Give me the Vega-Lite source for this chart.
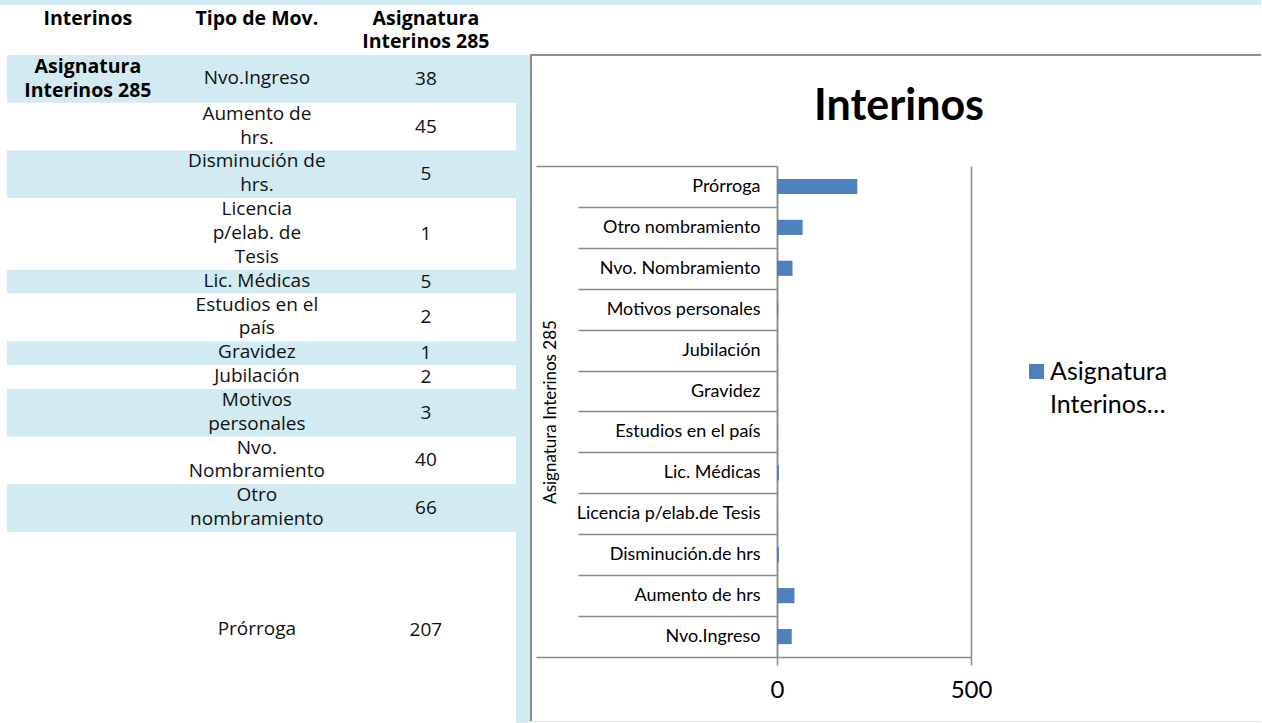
{
  "$schema": "https://vega.github.io/schema/vega-lite/v6.json",
  "background": "white",
  "padding": 0,
  "bounds": "flush",
  "spacing": 247,
  "config": {"view": {"stroke": null}, "style": {"guide-label": {"lineHeight": 33}}},
  "datasets": {
    "movimientos": [
      {"serie": "Asignatura Interinos 285", "tipo": ["Nvo.Ingreso"], "categoria": "Nvo.Ingreso", "valor": 38},
      {"serie": "Asignatura Interinos 285", "tipo": ["Aumento de", "hrs."], "categoria": "Aumento de hrs", "valor": 45},
      {"serie": "Asignatura Interinos 285", "tipo": ["Disminución de", "hrs."], "categoria": "Disminución.de hrs", "valor": 5},
      {"serie": "Asignatura Interinos 285", "tipo": ["Licencia", "p/elab. de", "Tesis"], "categoria": "Licencia p/elab.de Tesis", "valor": 1},
      {"serie": "Asignatura Interinos 285", "tipo": ["Lic. Médicas"], "categoria": "Lic. Médicas", "valor": 5},
      {"serie": "Asignatura Interinos 285", "tipo": ["Estudios en el", "país"], "categoria": "Estudios en el país", "valor": 2},
      {"serie": "Asignatura Interinos 285", "tipo": ["Gravidez"], "categoria": "Gravidez", "valor": 1},
      {"serie": "Asignatura Interinos 285", "tipo": ["Jubilación"], "categoria": "Jubilación", "valor": 2},
      {"serie": "Asignatura Interinos 285", "tipo": ["Motivos", "personales"], "categoria": "Motivos personales", "valor": 3},
      {"serie": "Asignatura Interinos 285", "tipo": ["Nvo.", "Nombramiento"], "categoria": "Nvo. Nombramiento", "valor": 40},
      {"serie": "Asignatura Interinos 285", "tipo": ["Otro", "nombramiento"], "categoria": "Otro nombramiento", "valor": 66},
      {"serie": "Asignatura Interinos 285", "tipo": ["Prórroga"], "categoria": "Prórroga", "valor": 207}
    ],
    "encabezados": [
      {"columna": 1, "titulo": ["Interinos"]},
      {"columna": 2, "titulo": ["Tipo de Mov."]},
      {"columna": 3, "titulo": ["Asignatura", "Interinos 285"]}
    ]
  },
  "hconcat": [
    {
      "width": 530,
      "height": 491,
      "layer": [
        {
          "data": {"values": [{}]},
          "layer": [
            {"mark": {"type": "rect", "color": "#D2EAF1"},
             "encoding": {
               "x": {"datum": 0.48, "type": "quantitative", "scale": {"domain": [0.48, 3.616], "nice": false, "zero": false}, "axis": null},
               "x2": {"datum": 7.9413},
               "y": {"datum": -2.3062, "type": "quantitative", "scale": {"domain": [4.654, 25.2411], "nice": false, "zero": false, "reverse": true}, "axis": null},
               "y2": {"datum": -2.0966}}},
            {"mark": {"type": "rect", "color": "#D2EAF1"},
             "encoding": {
               "x": {"datum": 3.5332, "type": "quantitative", "scale": {"domain": [0.48, 3.616], "nice": false, "zero": false}, "axis": null},
               "x2": {"datum": 3.616},
               "y": {"datum": 0, "type": "quantitative", "scale": {"domain": [4.654, 25.2411], "nice": false, "zero": false, "reverse": true}, "axis": null},
               "y2": {"datum": 28.0}}},
            {"mark": {"type": "rect", "color": "#8F8F8F"},
             "encoding": {
               "x": {"datum": 3.616, "type": "quantitative", "scale": {"domain": [0.48, 3.616], "nice": false, "zero": false}, "axis": null},
               "x2": {"datum": 3.6278},
               "y": {"datum": -0.0419, "type": "quantitative", "scale": {"domain": [4.654, 25.2411], "nice": false, "zero": false, "reverse": true}, "axis": null},
               "y2": {"datum": 27.966}}},
            {"mark": {"type": "rect", "color": "#8F8F8F"},
             "encoding": {
               "x": {"datum": 3.616, "type": "quantitative", "scale": {"domain": [0.48, 3.616], "nice": false, "zero": false}, "axis": null},
               "x2": {"datum": 7.9413},
               "y": {"datum": -0.0419, "type": "quantitative", "scale": {"domain": [4.654, 25.2411], "nice": false, "zero": false, "reverse": true}, "axis": null},
               "y2": {"datum": 0.0419}}},
            {"mark": {"type": "rect", "color": "#E6E6E6"},
             "encoding": {
               "x": {"datum": 3.616, "type": "quantitative", "scale": {"domain": [0.48, 3.616], "nice": false, "zero": false}, "axis": null},
               "x2": {"datum": 7.9413},
               "y": {"datum": 27.925, "type": "quantitative", "scale": {"domain": [4.654, 25.2411], "nice": false, "zero": false, "reverse": true}, "axis": null},
               "y2": {"datum": 27.966}}}
          ]
        },
        {
          "data": {"name": "encabezados"},
          "mark": {"type": "text", "font": "Open Sans", "fontWeight": "bold", "fontSize": 19.5, "lineHeight": 23.85, "baseline": "line-top", "align": "center", "color": "black"},
          "encoding": {
            "x": {"field": "columna", "type": "quantitative", "scale": {"domain": [0.48, 3.616], "nice": false, "zero": false}, "axis": null},
            "y": {"datum": -2.03, "type": "quantitative", "scale": {"domain": [4.654, 25.2411], "nice": false, "zero": false, "reverse": true}, "axis": null},
            "text": {"field": "titulo", "type": "nominal"}
          }
        },
        {
          "data": {"name": "movimientos"},
          "transform": [
            {"window": [{"op": "row_number", "as": "n"}]},
            {"joinaggregate": [{"op": "count", "as": "filas"}]},
            {"calculate": "[slice(datum.serie, 0, indexof(datum.serie, ' ')), slice(datum.serie, indexof(datum.serie, ' ') + 1)]", "as": "grupo"},
            {"calculate": "datum.n === 1 ? max(length(datum.tipo), length(datum.grupo)) : length(datum.tipo)", "as": "lineas"},
            {"window": [{"op": "sum", "field": "lineas", "as": "fin"}], "sort": [{"field": "n"}], "frame": [null, 0]},
            {"calculate": "datum.fin - datum.lineas", "as": "inicio"},
            {"calculate": "datum.n === datum.filas ? (datum.inicio + 28.2) / 2 : (datum.inicio + datum.fin) / 2", "as": "centro"}
          ],
          "layer": [
            {
              "transform": [{"filter": "datum.n % 2 === 1"}],
              "mark": {"type": "rect", "color": "#D2EAF1"},
              "encoding": {
                "x": {"datum": 0.5214, "type": "quantitative", "scale": {"domain": [0.48, 3.616], "nice": false, "zero": false}, "axis": null},
                "x2": {"datum": 3.5332},
                "y": {"field": "inicio", "type": "quantitative", "scale": {"domain": [4.654, 25.2411], "nice": false, "zero": false, "reverse": true}, "axis": null},
                "y2": {"field": "fin"}
              }
            },
            {
              "transform": [{"filter": "datum.n === 1"}, {"calculate": "datum.centro - length(datum.grupo) / 2", "as": "arriba"}],
              "mark": {"type": "text", "font": "Open Sans", "fontWeight": "bold", "fontSize": 19.5, "lineHeight": 23.85, "baseline": "line-top", "align": "center", "color": "black"},
              "encoding": {
                "x": {"datum": 1, "type": "quantitative", "scale": {"domain": [0.48, 3.616], "nice": false, "zero": false}, "axis": null},
                "y": {"field": "arriba", "type": "quantitative", "scale": {"domain": [4.654, 25.2411], "nice": false, "zero": false, "reverse": true}, "axis": null},
                "text": {"field": "grupo", "type": "nominal"}
              }
            },
            {
              "transform": [{"calculate": "datum.centro - length(datum.tipo) / 2", "as": "arriba"}],
              "mark": {"type": "text", "font": "Open Sans", "fontSize": 19, "lineHeight": 23.85, "baseline": "line-top", "align": "center", "color": "#111111"},
              "encoding": {
                "x": {"datum": 2, "type": "quantitative", "scale": {"domain": [0.48, 3.616], "nice": false, "zero": false}, "axis": null},
                "y": {"field": "arriba", "type": "quantitative", "scale": {"domain": [4.654, 25.2411], "nice": false, "zero": false, "reverse": true}, "axis": null},
                "text": {"field": "tipo", "type": "nominal"}
              }
            },
            {
              "mark": {"type": "text", "font": "Open Sans", "fontSize": 19, "baseline": "middle", "align": "center", "color": "#111111"},
              "encoding": {
                "x": {"datum": 3, "type": "quantitative", "scale": {"domain": [0.48, 3.616], "nice": false, "zero": false}, "axis": null},
                "y": {"field": "centro", "type": "quantitative", "scale": {"domain": [4.654, 25.2411], "nice": false, "zero": false, "reverse": true}, "axis": null},
                "text": {"field": "valor", "type": "quantitative"}
              }
            }
          ]
        }
      ]
    },
    {
      "width": 194,
      "height": 491,
      "data": {"name": "movimientos"},
      "transform": [{"window": [{"op": "row_number", "as": "orden"}]}],
      "title": {"text": "Interinos", "font": "Lato", "fontSize": 43, "fontWeight": "bold", "color": "black", "anchor": "middle", "frame": "group", "dx": 25, "offset": -6, "baseline": "alphabetic"},
      "mark": {"type": "bar", "height": {"band": 0.37}},
      "encoding": {
        "y": {
          "field": "categoria", "type": "nominal",
          "sort": {"field": "orden", "op": "max", "order": "descending"},
          "scale": {"paddingInner": 0, "paddingOuter": 0},
          "axis": {
            "title": "Asignatura Interinos 285",
            "titleFont": "Lato", "titleFontSize": 17, "titleFontWeight": "normal", "titleColor": "black", "titleX": -218, "titleBaseline": "bottom",
            "tickBand": "extent",
            "tickSize": {"condition": {"test": "datum.index === -1 || datum.value === 'Nvo.Ingreso'", "value": 241}, "value": 199},
            "tickColor": "#8B8B8B", "tickWidth": 1.5,
            "domainColor": "#8B8B8B", "domainWidth": 1.5,
            "labelPadding": {"condition": {"test": "datum.value === 'Nvo.Ingreso'", "value": -224}, "value": -182},
            "labelFont": "Lato", "labelFontSize": 18, "labelColor": "black", "labelLimit": 0,
            "grid": false
          }
        },
        "x": {
          "field": "valor", "type": "quantitative",
          "scale": {"domain": [0, 500], "nice": false},
          "axis": {"values": [0, 500], "grid": true, "gridColor": "#8B8B8B", "gridWidth": 1.5, "domainColor": "#8B8B8B", "domainWidth": 1.5, "tickColor": "#8B8B8B", "tickWidth": 1.5, "tickSize": 8, "labelFont": "Lato", "labelFontSize": 24, "labelColor": "black", "labelPadding": 13, "labelFlush": false, "title": null}
        },
        "color": {
          "field": "serie", "type": "nominal",
          "scale": {"range": ["#4F81BD"]},
          "legend": {"title": null, "orient": "none", "legendX": 1024, "legendY": 193, "symbolType": "square", "symbolSize": 225, "symbolStrokeWidth": 0, "labelFont": "Lato", "labelFontSize": 25, "labelColor": "black", "labelExpr": "[split(datum.label, ' ')[0], split(datum.label, ' ')[1] + '…']", "labelOffset": 1, "labelLimit": 0, "padding": 0}
        }
      }
    }
  ]
}
